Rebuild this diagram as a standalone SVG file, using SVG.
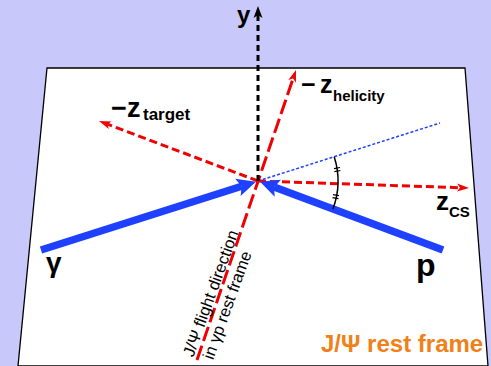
<svg xmlns="http://www.w3.org/2000/svg" width="491" height="366" viewBox="0 0 491 366">
<style>
.lab{font-family:"Liberation Sans",Arial,sans-serif;font-weight:bold;fill:#000}
.red{fill:none;stroke:#F00000;stroke-width:3}
.thick{fill:none;stroke:#1E40FF;stroke-width:7.5}
.rot{font-family:"Liberation Sans",Arial,sans-serif;font-size:16.5px;fill:#000}
</style>
<defs>
<marker id="ra" markerUnits="userSpaceOnUse" markerWidth="20" markerHeight="20" viewBox="-2 -10 20 20" refX="3" refY="0" orient="auto" overflow="visible"><path d="M0,-4 L12,0 L0,4 L3,0 Z" fill="#F00000"/></marker>
<marker id="ka" markerUnits="userSpaceOnUse" markerWidth="20" markerHeight="20" viewBox="-2 -10 20 20" refX="3" refY="0" orient="auto" overflow="visible"><path d="M0,-4.5 L12,0 L0,4.5 L3,0 Z" fill="#000"/></marker>
<marker id="ba" markerUnits="userSpaceOnUse" markerWidth="30" markerHeight="30" viewBox="-2 -15 30 30" refX="4" refY="0" orient="auto" overflow="visible"><path d="M0,-9 L19,0 L0,9 L4,0 Z" fill="#1E40FF"/></marker>
</defs>
<rect width="491" height="366" fill="#C8C8FA"/>
<g id="plane"><polygon points="47,68 465,68 488,366 18,366" fill="#FFFFFF" stroke="#000" stroke-width="1.3"/></g>
<g id="connectors">
<line x1="258" y1="181" x2="440" y2="123" stroke="#1E40FF" stroke-width="1.5" stroke-dasharray="3 2"/>
<line class="red" x1="258" y1="181" x2="107.4" y2="124.2" stroke-dasharray="8 4" marker-end="url(#ra)"/>
<line class="red" x1="258" y1="181" x2="460" y2="187.7" stroke-dasharray="8 4" marker-end="url(#ra)"/>
<line class="red" x1="197" y1="360" x2="293.1" y2="78.5" stroke-width="2.6" stroke-dasharray="15 5" marker-end="url(#ra)"/>
<line x1="258" y1="181" x2="258" y2="15" stroke="#000" stroke-width="3" stroke-dasharray="6 4" marker-end="url(#ka)"/>
<line class="thick" x1="41" y1="250" x2="241.7" y2="186.2" marker-end="url(#ba)"/>
<line class="thick" x1="443" y1="250" x2="274.1" y2="186.9" marker-end="url(#ba)"/>
<path d="M334.2,156.7 A80,80 0 0 1 332.9,209" fill="none" stroke="#000" stroke-width="1.5"/>
<g stroke="#000" stroke-width="1.2">
<line x1="334" y1="168.6" x2="340" y2="167.5"/>
<line x1="334.4" y1="171.6" x2="340.4" y2="170.5"/>
<line x1="333" y1="194.6" x2="339" y2="195.7"/>
<line x1="332.5" y1="197.6" x2="338.5" y2="198.7"/>
</g>
</g>
<g id="label-y"><text class="lab" x="237" y="23" font-size="24">y</text></g>
<g id="label-target"><text class="lab" x="111" y="117" font-size="27">−<tspan x="127">z</tspan><tspan x="143" y="120" font-size="17">target</tspan></text></g>
<g id="label-helicity"><text class="lab" x="301" y="93" font-size="25">−<tspan x="320">z</tspan><tspan x="333" y="101" font-size="15">helicity</tspan></text></g>
<g id="label-cs"><text class="lab" x="436" y="210" font-size="26">z<tspan x="449" y="217" font-size="15">CS</tspan></text></g>
<g id="label-gamma"><text class="lab" x="46" y="272" font-size="28">γ</text></g>
<g id="label-p"><text class="lab" x="416" y="276" font-size="32">p</text></g>
<g id="label-flight" transform="translate(197,359) rotate(-70)">
<text class="rot" x="0" y="-4">J/Ψ flight direction</text>
<text class="rot" x="4" y="15.5">in γp rest frame</text>
</g>
<g id="title"><text class="lab" x="321" y="352" font-size="24" style="fill:#F08018">J/Ψ rest frame</text></g>
</svg>
